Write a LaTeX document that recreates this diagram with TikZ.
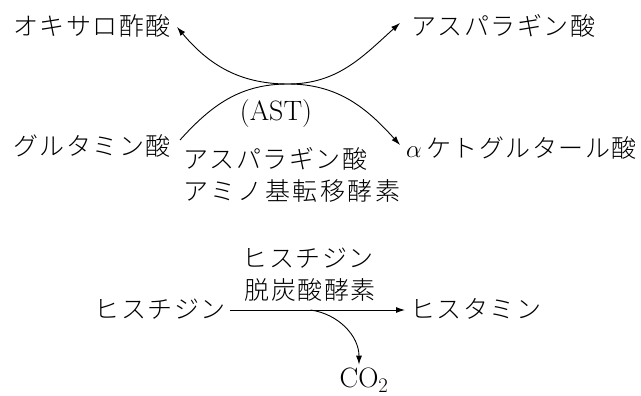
\documentclass[tikz,border=0pt]{standalone}
\usepackage{fontspec}
\newfontfamily\jp{Noto Sans CJK JP}[UprightFont=* Light,LetterSpace=6]
\usetikzlibrary{arrows.meta,calc}
\begin{document}
\begin{tikzpicture}[x=1pt,y=-1pt,
  jt/.style={font={\jp\fontsize{25}{29}\selectfont}, inner sep=0pt},
  lt/.style={font={\fontsize{28}{31}\selectfont}, inner sep=0pt},
  tip/.style={line width=0.9pt, -{Latex[length=9pt,width=6pt]}},
  tips/.style={line width=0.9pt, {Latex[length=9pt,width=6pt]}-{Latex[length=9pt,width=6pt]}},
  ln/.style={line width=0.9pt}]
\useasboundingbox (0,0) rectangle (641,396);
% top reaction
\node[jt, anchor=east] (oxa) at (171,26) {オキサロ酢酸};
\node[jt, anchor=west] (asp) at (411,26) {アスパラギン酸};
\node[jt, anchor=east] (glu) at (171,146) {グルタミン酸};
\node[jt, anchor=west] (akg) at (406,148) {$\alpha$\,ケトグルタール酸};
\node[lt] (ast) at (276,114) {(AST)};
\node[jt, anchor=west] (enzA) at (183,159) {アスパラギン酸};
\node[jt, anchor=west] (enzB) at (183,191) {\addfontfeature{LetterSpace=10}アミノ基転移酵素};
\coordinate (mid) at (288,84);
\draw[tips] ($(oxa.east)+(6,1)$) to[out=-50,in=180] (mid) to[out=0,in=-138] ($(asp.west)+(-11,-3)$);
\draw[tip] ($(glu.east)+(9,-6)$) to[out=48,in=180] (mid) to[out=0,in=132] ($(akg.west)+(-6,-3)$);
% bottom reaction
\node[jt, anchor=east] (his) at (226,309) {ヒスチジン};
\node[jt, anchor=west] (hsm) at (410,309) {ヒスタミン};
\node[jt] (enzC) at (308,258) {ヒスチジン};
\node[jt] (enzD) at (310,290) {脱炭酸酵素};
\node[lt] (co2) at (364,380) {CO$_2$};
\draw[tip] ($(his.east)+(4,1)$) -- coordinate[pos=0.46] (br) ($(hsm.west)+(-5,1)$);
\draw[tip] (br) to[out=-8,in=90] ($(co2.north)+(-5,-3)$);
\end{tikzpicture}
\end{document}
